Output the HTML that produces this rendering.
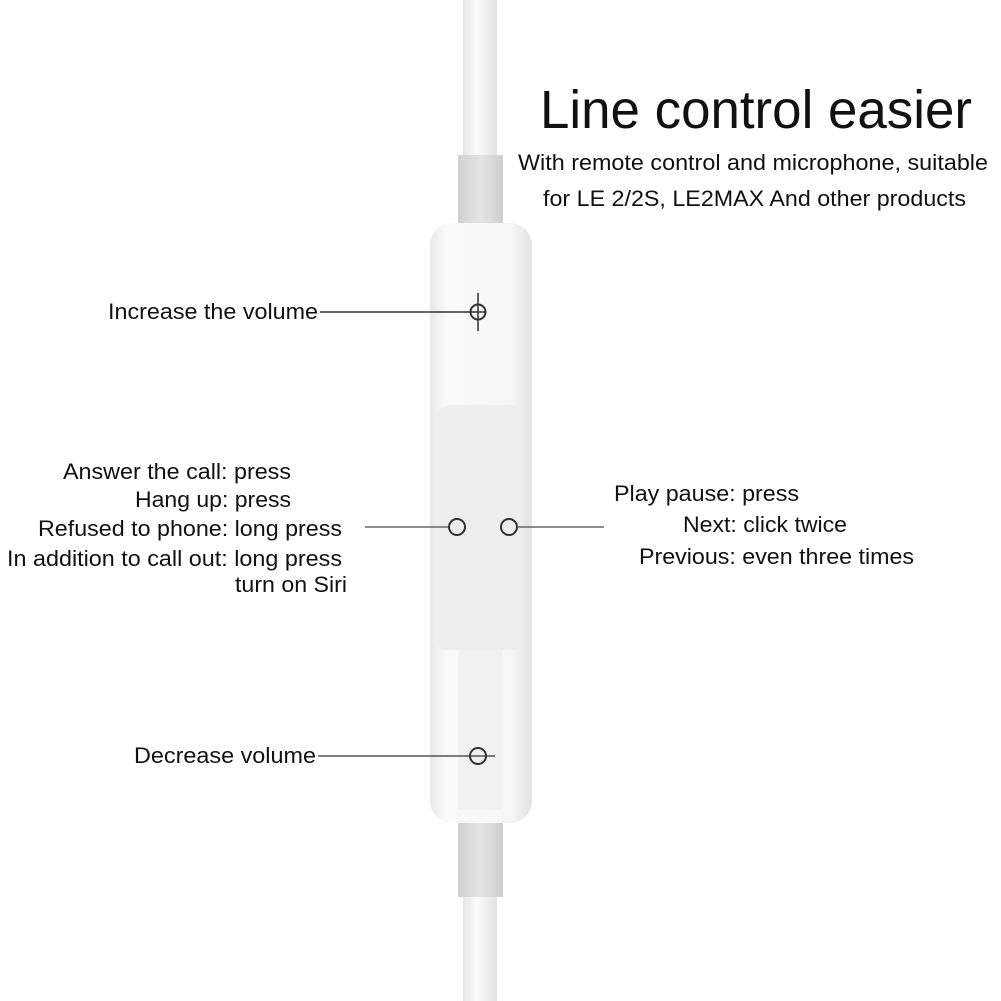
<!DOCTYPE html>
<html><head><meta charset="utf-8"><style>
html,body{margin:0;padding:0;background:#fff;}
svg{display:block;font-family:"Liberation Sans",Arial,sans-serif;}
</style></head><body>
<svg width="1001" height="1001" viewBox="0 0 1001 1001">
<defs>
<linearGradient id="cab" x1="0" x2="1"><stop offset="0" stop-color="#e6e6e6"/><stop offset="0.4" stop-color="#fbfbfb"/><stop offset="1" stop-color="#e2e2e2"/></linearGradient>
<linearGradient id="col" x1="0" x2="1"><stop offset="0" stop-color="#d0d0d0"/><stop offset="0.5" stop-color="#e4e4e4"/><stop offset="1" stop-color="#cfcfcf"/></linearGradient>
<linearGradient id="body" x1="0" x2="1"><stop offset="0" stop-color="#e8e8e8"/><stop offset="0.15" stop-color="#fafafa"/><stop offset="0.8" stop-color="#f6f6f6"/><stop offset="1" stop-color="#e3e3e3"/></linearGradient>
</defs>
<rect x="463" y="0" width="34" height="160" fill="url(#cab)"/>
<rect x="458" y="155" width="45" height="70" fill="url(#col)"/>
<rect x="463" y="820" width="34" height="181" fill="url(#cab)"/>
<rect x="458" y="815" width="45" height="82" fill="url(#col)"/>
<rect x="430" y="223" width="102" height="600" rx="22" fill="url(#body)"/>
<path d="M437 420 Q437 405 452 405 L508 405 Q523 405 523 420 L523 640 Q523 650 513 650 L447 650 Q437 650 437 640 Z" fill="#eeeeee"/>
<rect x="458" y="650" width="44" height="160" fill="#f1f1f1"/>
<g stroke="#333" stroke-width="1.5" fill="none">
<line x1="320" y1="312" x2="486" y2="312"/>
<circle cx="478" cy="312" r="7.5" stroke-width="2"/>
<line x1="478" y1="293" x2="478" y2="331"/>
<line x1="365" y1="527" x2="449" y2="527" stroke="#666"/>
<circle cx="457" cy="527" r="8" stroke-width="2"/>
<circle cx="509" cy="527" r="8" stroke-width="2"/>
<line x1="517" y1="527" x2="604" y2="527" stroke="#666"/>
<line x1="318" y1="756" x2="495" y2="756" stroke="#555"/>
<circle cx="478" cy="756" r="8" stroke-width="2"/>
</g>
<g fill="#111">
<text x="540" y="128" font-size="54" textLength="432" lengthAdjust="spacingAndGlyphs">Line control easier</text>
<text x="518" y="170" font-size="22" textLength="470" lengthAdjust="spacingAndGlyphs">With remote control and microphone, suitable</text>
<text x="543" y="206" font-size="22" textLength="423" lengthAdjust="spacingAndGlyphs">for LE 2/2S, LE2MAX And other products</text>
<text x="108" y="319" font-size="22" textLength="210" lengthAdjust="spacingAndGlyphs">Increase the volume</text>
<text x="134" y="763" font-size="22" textLength="182" lengthAdjust="spacingAndGlyphs">Decrease volume</text>
<g font-size="22">
<text x="63" y="479" textLength="228" lengthAdjust="spacingAndGlyphs">Answer the call: press</text>
<text x="135" y="507" textLength="156" lengthAdjust="spacingAndGlyphs">Hang up: press</text>
<text x="38" y="536" textLength="304" lengthAdjust="spacingAndGlyphs">Refused to phone: long press</text>
<text x="7" y="566" textLength="335" lengthAdjust="spacingAndGlyphs">In addition to call out: long press</text>
<text x="235" y="592" textLength="112" lengthAdjust="spacingAndGlyphs">turn on Siri</text>
<text x="614" y="501" textLength="185" lengthAdjust="spacingAndGlyphs">Play pause: press</text>
<text x="683" y="532" textLength="164" lengthAdjust="spacingAndGlyphs">Next: click twice</text>
<text x="639" y="564" textLength="275" lengthAdjust="spacingAndGlyphs">Previous: even three times</text>
</g>
</g>
</svg>
</body></html>
